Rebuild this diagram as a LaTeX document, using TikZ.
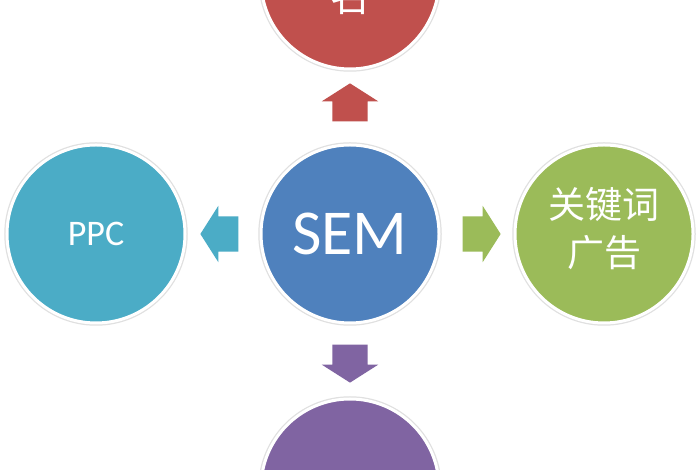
\documentclass[tikz,border=0pt]{standalone}
\usepackage{fontspec}
\setmainfont{Carlito}
\newfontfamily\cjkfont{Noto Sans CJK SC}
\usepackage{tikz}
\usetikzlibrary{shapes.arrows,positioning}

\definecolor{semblue}{HTML}{4F81BD}
\definecolor{ppccyan}{HTML}{4BACC6}
\definecolor{adgreen}{HTML}{9BBB59}
\definecolor{rankred}{HTML}{C0504D}
\definecolor{lowpurple}{HTML}{8064A2}

\begin{document}
\begin{tikzpicture}[x=1pt,y=1pt,node distance=254pt]
  \tikzstyle{bubble}=[circle,minimum size=178pt,inner sep=0pt,draw=white,line width=3pt,
  preaction={draw=black!12,line width=5.5pt},text=white]
  \tikzstyle{cjktext}=[text=white,align=center,font=\cjkfont\fontsize{37}{48}\selectfont]
  \tikzstyle{blockarrow}=[single arrow,inner sep=0pt,inner ysep=17.5pt,minimum height=38pt,
  single arrow head extend=10.5pt,single arrow tip angle=115]
  \tikzstyle{vblockarrow}=[blockarrow,inner ysep=0pt,inner xsep=17.5pt]
  \useasboundingbox[fill=white] (0,0) rectangle (700,470);

    \node [bubble,fill=semblue,font=\fontsize{64}{64}\selectfont] (sem) at (350,236) {SEM};
    \node [bubble,fill=ppccyan,font=\fontsize{36}{36}\selectfont] (ppc) [left of=sem] {PPC};
    \node [bubble,fill=adgreen] (ad) [right of=sem] {};
    \node [cjktext] (adtext) [above of=ad,node distance=5pt] {关键词\\广告};
    \node [bubble,fill=rankred] (rank) [above of=sem] {};
    \node [bubble,fill=lowpurple] (low) [below of=sem] {};
    \node [cjktext,font=\cjkfont\fontsize{40}{40}\selectfont] (ranktext) [below of=rank,node distance=16pt] {名};
    \node [vblockarrow,fill=rankred,shape border rotate=90] (up) [above of=sem,node distance=126pt] {};
    \node [vblockarrow,fill=lowpurple,shape border rotate=270] (down) [below of=sem,node distance=124pt] {};
    \node [blockarrow,fill=ppccyan,shape border rotate=180] (toppc) [left of=sem,node distance=125pt] {};
    \node [blockarrow,fill=adgreen] (toad) [right of=sem,node distance=126pt] {};
%\draw (sem) -- (ppc);
\end{tikzpicture}
\end{document}
